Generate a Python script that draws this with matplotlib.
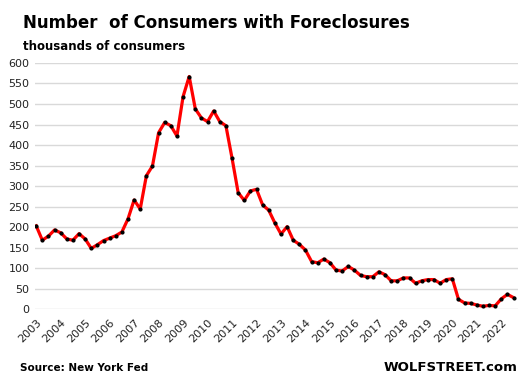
import numpy as np
import matplotlib.pyplot as plt

# quarterly, 2003 Q1 .. 2022 Q3, thousands of consumers
foreclosures = [
    203, 168, 178, 193, 186, 171, 168, 184, 171, 148,
    157, 167, 173, 179, 188, 220, 266, 244, 325, 349,
    430, 455, 447, 422, 518, 567, 488, 466, 457, 483,
    457, 447, 368, 284, 265, 288, 292, 254, 241, 210,
    183, 201, 168, 158, 144, 116, 113, 122, 113, 95,
    93, 104, 95, 82, 79, 79, 91, 84, 69, 69,
    76, 76, 63, 69, 72, 72, 63, 72, 74, 24,
    15, 14, 10, 7, 9, 8, 25, 36, 28,
]
years = [str(y) for y in range(2003, 2023)]

x = np.arange(len(foreclosures))

fig = plt.figure(figsize=(5.22, 3.84), dpi=100)
ax = fig.add_axes([0.067, 0.195, 0.925, 0.641])

ax.plot(x, foreclosures, color='#ff0000', lw=2.3, zorder=3)
ax.plot(x, foreclosures, 'o', color='black', ms=2.0, zorder=4)

ax.set_ylim(0, 600)
ax.set_xlim(-0.2, 78.7)
ax.set_yticks(range(0, 601, 50))
ax.set_xticks(range(0, 4 * len(years), 4))
ax.set_xticklabels(years, rotation=45, ha='right', rotation_mode='anchor')
ax.tick_params(length=0, labelsize=8, colors='#222222', pad=4)
ax.tick_params(axis='x', pad=6)
ax.grid(axis='y', color='#d9d9d9', lw=1)
ax.set_axisbelow(True)
for s in ax.spines.values():
    s.set_visible(False)

fig.text(0.044, 0.94, 'Number  of Consumers with Foreclosures', fontsize=12,
         fontweight='bold', va='center')
fig.text(0.044, 0.88, 'thousands of consumers', fontsize=8.5,
         fontweight='bold', va='center')
fig.text(0.038, 0.042, 'Source: New York Fed', fontsize=7.5,
         fontweight='bold', va='center')
fig.text(0.992, 0.042, 'WOLFSTREET.com', fontsize=9.5,
         fontweight='bold', va='center', ha='right')

fig.savefig('out.png', dpi=100)
